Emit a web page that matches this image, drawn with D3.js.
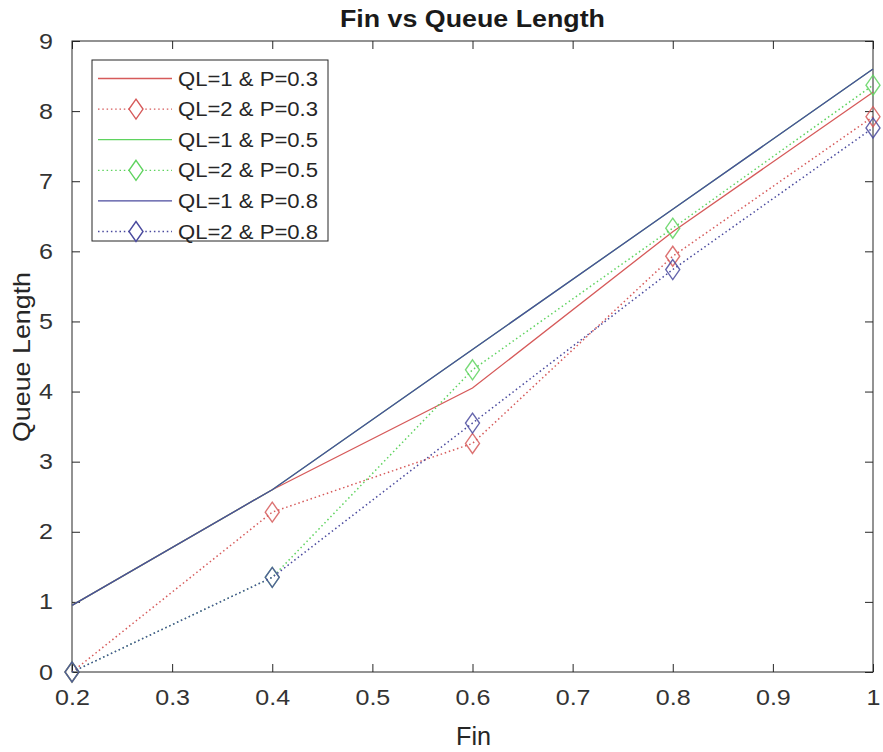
<!DOCTYPE html>
<html>
<head>
<meta charset="utf-8">
<script src="https://cdn.jsdelivr.net/npm/d3@7"></script>
<style>
  html, body { margin: 0; padding: 0; background: #fff; }
  svg { display: block; font-family: "Liberation Sans", Arial, Helvetica, sans-serif; }
</style>
</head>
<body>
<svg id="chart" width="883" height="752"></svg>
<script>
const fin = [0.2, 0.4, 0.6, 0.8, 1.0];
const ql1_p03 = [0.95, 2.6, 4.05, 6.28, 8.27];
const ql2_p03 = [0, 2.28, 3.26, 5.93, 7.92];
const ql1_p05 = [0.95, 2.6, 4.6, 6.6, 8.6];
const ql2_p05 = [0, 1.35, 4.31, 6.33, 8.37];
const ql1_p08 = [0.95, 2.6, 4.6, 6.6, 8.6];
const ql2_p08 = [0, 1.35, 3.55, 5.74, 7.76];
const seriesNames = ["QL=1 & P=0.3", "QL=2 & P=0.3", "QL=1 & P=0.5", "QL=2 & P=0.5", "QL=1 & P=0.8", "QL=2 & P=0.8"];
const xTicks = [0.2, 0.3, 0.4, 0.5, 0.6, 0.7, 0.8, 0.9, 1];
const yTicks = [0, 1, 2, 3, 4, 5, 6, 7, 8, 9];

const RED = "#d65a5a", GREEN = "#5fd35f", BLUE = "#4a4a9e";
const series = [
  {name: seriesNames[0], vals: ql1_p03, color: RED, dotted: false},
  {name: seriesNames[1], vals: ql2_p03, color: RED, dotted: true},
  {name: seriesNames[2], vals: ql1_p05, color: GREEN, dotted: false},
  {name: seriesNames[3], vals: ql2_p05, color: GREEN, dotted: true},
  {name: seriesNames[4], vals: ql1_p08, color: BLUE, dotted: false},
  {name: seriesNames[5], vals: ql2_p08, color: BLUE, dotted: true}
];

const svg = d3.select("#chart");
const L = 72, R = 873, T = 41, B = 672;
const x = d3.scaleLinear().domain([0.2, 1]).range([L, R]);
const y = d3.scaleLinear().domain([0, 9]).range([B, T]);
const axisColor = "#262626";
const FONT = "'Liberation Sans', Arial, sans-serif";

function stretch(sel, factor) {
  sel.each(function () {
    const w = this.getComputedTextLength();
    d3.select(this).attr("textLength", w * factor).attr("lengthAdjust", "spacingAndGlyphs");
  });
}

// box
svg.append("rect").attr("x", L).attr("y", T).attr("width", R - L).attr("height", B - T)
  .attr("fill", "none").attr("stroke", axisColor).attr("stroke-width", 1);

// axes with inward ticks
const tickLen = 8;
const xAxis = svg.append("g").attr("transform", `translate(0,${B})`)
  .call(d3.axisBottom(x).tickValues(xTicks).tickSize(-tickLen).tickPadding(tickLen + 13).tickFormat(d3.format("")));
const xAxisTop = svg.append("g").attr("transform", `translate(0,${T})`)
  .call(d3.axisTop(x).tickValues(xTicks).tickSize(-tickLen).tickFormat(""));
const yAxis = svg.append("g").attr("transform", `translate(${L},0)`)
  .call(d3.axisLeft(y).tickValues(yTicks).tickSize(-tickLen).tickPadding(tickLen + 11));
const yAxisR = svg.append("g").attr("transform", `translate(${R},0)`)
  .call(d3.axisRight(y).tickValues(yTicks).tickSize(-tickLen).tickFormat(""));
[xAxis, xAxisTop, yAxis, yAxisR].forEach(g => {
  g.select(".domain").remove();
  g.selectAll("line").attr("stroke", axisColor);
  g.selectAll("text").attr("fill", "#333").style("font-size", "22px").style("font-family", FONT);
});
xAxis.selectAll("text").attr("dy", "0.55em");
stretch(xAxis.selectAll("text"), 1.14);
stretch(yAxis.selectAll("text"), 1.14);

const line = d3.line().x((d, i) => x(fin[i])).y(d => y(d));
const DIAMOND = "M0,-10L7,0L0,10L-7,0Z";

const plot = svg.append("g");
series.forEach(s => {
  plot.append("path").datum(s.vals).attr("d", line)
    .attr("fill", "none").attr("stroke", s.color).attr("stroke-width", s.dotted ? 1.5 : 1.3)
    .attr("stroke-dasharray", s.dotted ? "1.5,2.8" : null);
  if (s.dotted) {
    plot.selectAll(null).data(s.vals).enter().append("path")
      .attr("d", DIAMOND)
      .attr("transform", (d, i) => `translate(${x(fin[i])},${y(d)})`)
      .attr("fill", "none").attr("stroke", s.color).attr("stroke-width", 1.4)
      .attr("opacity", 0.85);
  }
});

// title and labels
svg.append("text").attr("x", 472.5).attr("y", 27).attr("text-anchor", "middle")
  .style("font-size", "23px").style("font-weight", "bold").style("font-family", FONT).attr("fill", "#1a1a1a")
  .attr("textLength", 265).attr("lengthAdjust", "spacingAndGlyphs")
  .text("Fin vs Queue Length");
svg.append("text").attr("x", 473.5).attr("y", 745).attr("text-anchor", "middle")
  .style("font-size", "25px").style("font-family", FONT).attr("fill", axisColor)
  .attr("textLength", 35).attr("lengthAdjust", "spacingAndGlyphs").text("Fin");
svg.append("text").attr("transform", `translate(30,357) rotate(-90)`).attr("text-anchor", "middle")
  .style("font-size", "24px").style("font-family", FONT).attr("fill", axisColor)
  .attr("textLength", 170).attr("lengthAdjust", "spacingAndGlyphs").text("Queue Length");

// legend
const lg = svg.append("g");
lg.append("rect").attr("x", 92).attr("y", 60).attr("width", 236).attr("height", 181)
  .attr("fill", "#fff").attr("stroke", axisColor).attr("stroke-width", 1);
series.forEach((s, i) => {
  const yy = 78.5 + i * 30.6;
  lg.append("line").attr("x1", 98).attr("x2", 172).attr("y1", yy).attr("y2", yy)
    .attr("stroke", s.color).attr("stroke-width", 1.3)
    .attr("stroke-dasharray", s.dotted ? "1.5,2.8" : null);
  if (s.dotted) {
    lg.append("path").attr("d", DIAMOND)
      .attr("transform", `translate(136,${yy})`)
      .attr("fill", "#fff").attr("stroke", s.color).attr("stroke-width", 1.4);
  }
  lg.append("text").attr("x", 178).attr("y", yy + 7).style("font-size", "19.5px").style("font-family", FONT)
    .attr("fill", axisColor).attr("textLength", 140).attr("lengthAdjust", "spacingAndGlyphs").text(s.name);
});
</script>
</body>
</html>
